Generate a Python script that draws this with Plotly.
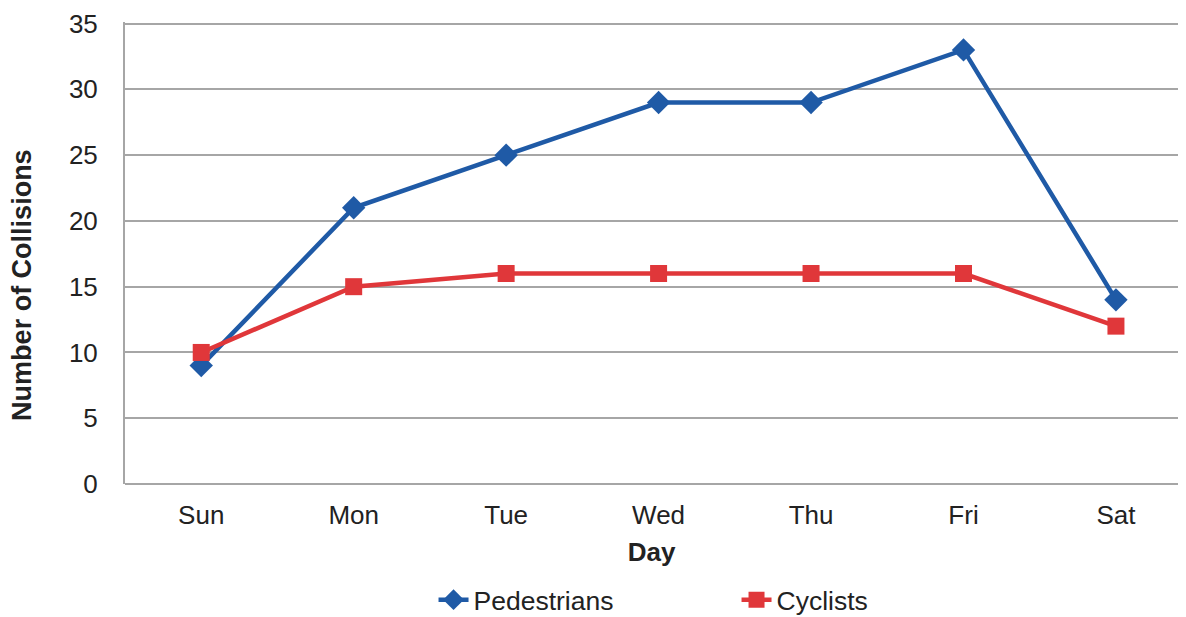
import plotly.graph_objects as go

days = ["Sun", "Mon", "Tue", "Wed", "Thu", "Fri", "Sat"]
pedestrians = [9, 21, 25, 29, 29, 33, 14]
cyclists = [10, 15, 16, 16, 16, 16, 12]

BLUE = "#1f5aa6"
RED = "#e0373a"
GRID = "#a6a6a6"
FONT = "Liberation Sans, Arial, sans-serif"

fig = go.Figure()

fig.add_trace(go.Scatter(
    x=days, y=pedestrians,
    mode="lines+markers",
    name="Pedestrians",
    line=dict(color=BLUE, width=4.5),
    marker=dict(symbol="diamond", size=18, color=BLUE),
))

fig.add_trace(go.Scatter(
    x=days, y=cyclists,
    mode="lines+markers",
    name="Cyclists",
    line=dict(color=RED, width=4.5),
    marker=dict(symbol="square", size=17, color=RED),
))

# page body has an 8px margin, so the figure is offset; extra height at the
# bottom leaves room for the legend without plotly growing the margin
fig.update_layout(
    width=1170, height=617,
    margin=dict(l=117, r=0, t=14, b=141),
    plot_bgcolor="white",
    paper_bgcolor="white",
    font=dict(family=FONT, size=26, color="#222222"),
    legend=dict(
        orientation="h",
        x=0.293, xanchor="left",
        y=-0.251, yanchor="middle",
        font=dict(size=26.5, color="#222222"),
        entrywidth=258,
        traceorder="normal",
    ),
    showlegend=True,
)

# y title sits a bit below the plot's centre in the original, so use an annotation
fig.add_annotation(
    text="<b>Number of Collisions</b>",
    xref="paper", yref="paper",
    x=0, y=0.431,
    xanchor="center", yanchor="middle",
    xshift=-103,
    textangle=-90,
    showarrow=False,
    font=dict(size=27, color="#222222"),
)

fig.update_xaxes(
    title=dict(text="<b>Day</b>", font=dict(size=26), standoff=13),
    range=[-0.5, 6.407],
    showgrid=False,
    showline=False,
    zeroline=False,
    ticks="",
    ticklabelstandoff=13,
    tickfont=dict(size=26),
)

# a hair above 35 so the top gridline isn't clipped at the plot edge
fig.update_yaxes(
    range=[0, 35.12],
    tickvals=[0, 5, 10, 15, 20, 25, 30, 35],
    showgrid=True,
    gridcolor=GRID,
    gridwidth=2,
    showline=True,
    linecolor=GRID,
    linewidth=2,
    zeroline=True,
    zerolinecolor=GRID,
    zerolinewidth=2,
    ticks="",
    ticklabelstandoff=20,
    ticklabeloverflow="allow",
    tickfont=dict(size=26),
)

fig.write_html("out.html")
